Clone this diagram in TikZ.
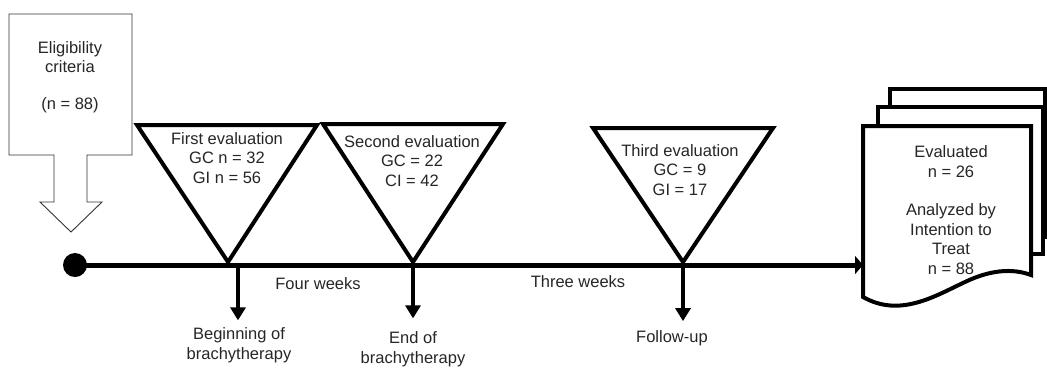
\documentclass[tikz,border=0pt]{standalone}
\usepackage{fontspec}
\setmainfont{Liberation Sans}
\usetikzlibrary{arrows.meta}
\begin{document}
\begin{tikzpicture}[x=1pt,y=-1pt,
  txt/.style={font=\fontsize{16.5}{19.5}\selectfont, align=center, inner sep=0pt, text=black!85},
  tri/.style={draw, line width=4pt, line join=miter, fill=white},
  page/.style={draw, line width=4pt, fill=white},
  callout/.style={draw=black!80, line width=0.9pt, fill=white},
  downarr/.style={line width=3.2pt, -{Triangle[width=15pt,length=13pt]}},
  mainarr/.style={line width=5pt, -{Triangle[width=18pt,length=8pt]}},
]
\useasboundingbox (0,0) rectangle (1047,368);

% eligibility callout
\draw[callout] (9,14) -- (132,14) -- (132,155) -- (87,155) -- (87,202) -- (102,202)
  -- (71,232) -- (40,202) -- (54,202) -- (54,155) -- (9,155) -- cycle;
\node[txt] (elig) at (70,77) {Eligibility\\criteria\\[17pt](n = 88)};

% evaluation triangles
\coordinate (p1) at (228,262);
\coordinate (p2) at (413,262);
\coordinate (p3) at (683,262);
\draw[tri] (137,125) -- (317,125) -- (p1) -- cycle;
\draw[tri] (323,124) -- (503,124) -- (p2) -- cycle;
\draw[tri] (593,128) -- (773,128) -- (p3) -- cycle;
\node[txt] (ev1) at (227,158) {First evaluation\\GC n = 32\\GI n = 56};
\node[txt] (ev2) at (412,161) {Second evaluation\\GC = 22\\CI = 42};
\node[txt] (ev3) at (680,170) {Third evaluation\\GC = 9\\GI = 17};

% document stack
\draw[page] (890,89) rectangle (1045,237);
\draw[page] (878,107) rectangle (1043,254);
\draw[page] (863,126) -- (1031,126) -- (1031,275)
  .. controls (1012,268) and (990,270) .. (965,282)
  .. controls (935,296) and (900,318) .. (863,297) -- cycle;
\node[txt] (doc) at (951,210) {Evaluated\\n = 26\\[19pt]Analyzed by\\Intention to\\Treat\\n = 88};
\coordinate (docin) at (863,265);

% timeline
\node[circle, fill=black, minimum size=24pt, inner sep=0pt] (start) at (75,265) {};
\draw[mainarr] (start.center) -- (docin);

% time labels
\node[txt] (w4) at (318,284) {Four weeks};
\node[txt] (w3) at (578,282) {Three weeks};

% milestones
\coordinate (t1) at (238,265);
\coordinate (t2) at (413,265);
\coordinate (t3) at (683,265);
\node[txt] (m1) at (239,345) {Beginning of\\brachytherapy};
\node[txt] (m2) at (413,349) {End of\\brachytherapy};
\node[txt] (m3) at (672,338) {Follow-up};
\draw[downarr, shorten >=7pt] (t1) -- (t1 |- m1.north);
\draw[downarr, shorten >=13pt] (t2) -- (t2 |- m2.north);
\draw[downarr, shorten >=9pt] (t3) -- (t3 |- m3.north);
\end{tikzpicture}
\end{document}
